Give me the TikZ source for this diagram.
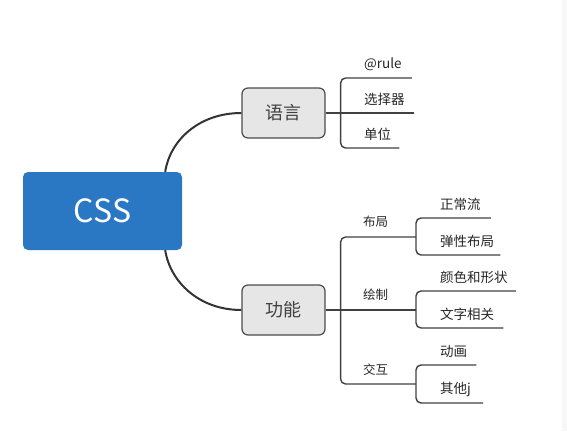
\documentclass[tikz,border=0pt]{standalone}
\usepackage{fontspec}
\setmainfont{Noto Sans CJK SC}
\usetikzlibrary{calc,positioning}
\definecolor{cssblue}{HTML}{2A78C4}
\definecolor{topicgray}{HTML}{E6E6E6}

\begin{document}
\begin{tikzpicture}[x=1pt,y=-1pt]
    \tikzstyle{root}=[rectangle, rounded corners=5pt, fill=cssblue, text=white, minimum width=159pt, minimum height=78pt, font=\fontsize{32}{36}\selectfont]
    \tikzstyle{topic}=[rectangle, rounded corners=6pt, draw=black!70, line width=1.2pt, fill=topicgray, minimum width=83pt, minimum height=50pt, font=\fontsize{18}{22}\selectfont, text=black!75]
    \tikzstyle{sub}=[inner sep=0pt, anchor=west, font=\fontsize{12.5}{15}\selectfont, text=black!85]
    \tikzstyle{leaf}=[inner sep=0pt, anchor=west, font=\fontsize{13.5}{16}\selectfont, text=black!85]
    \tikzstyle{curve}=[line width=2pt, draw=black!80]
    \tikzstyle{branch}=[line width=1.4pt, draw=black!75, rounded corners=5pt]

      \useasboundingbox (0,0) rectangle (567,431);
      \fill[black!3] (562,0) rectangle (567,431);

      % centre and first level
      \node[root] (css) at (102.5,211) {CSS};
      \node[topic] (lang) at (283.5,113) {语言};
      \node[topic] (func) at (283.5,310) {功能};
      \draw[curve] ($(css.north east)+(-17,0)$) .. controls +(5,-32) and +(-42,0) .. (lang.west);
      \draw[curve] ($(css.south east)+(-17,0)$) .. controls +(5,32) and +(-42,0) .. (func.west);

      % 语言
      \node[leaf] (rule) at (364,64) {@rule};
      \node[leaf] (sel) at (364,99) {选择器};
      \node[leaf] (unit) at (364,134) {单位};
      \coordinate (fork1) at ($(lang.east)+(15,0)$);
      \draw[branch] (lang.east) -- ($(sel.east)+(9,14)$);
      \draw[branch] ($(rule.east)+(10,14)$) -| (fork1) |- ($(unit.east)+(8,14)$);

      % 功能
      \node[sub] (layout) at (363,222) {布局};
      \node[sub] (paint) at (363,295) {绘制};
      \node[sub] (interact) at (363,370) {交互};
      \coordinate (fork2) at ($(func.east)+(15,0)$);
      \coordinate (lay) at (416,237);
      \coordinate (pnt) at (416,310);
      \coordinate (itr) at (416,384);
      \draw[branch] (func.east) -- (pnt);
      \draw[branch] (lay) -| (fork2) |- (itr);

      \node[leaf] (normal) at (440,204) {正常流};
      \node[leaf] (flex) at (440,241) {弹性布局};
      \node[leaf] (color) at (440,277) {颜色和形状};
      \node[leaf] (text) at (440,314) {文字相关};
      \node[leaf] (anim) at (440,351) {动画};
      \node[leaf] (other) at (440,389) {其他j};
      \draw[branch] ($(normal.east)+(10,14)$) -| (lay) |- ($(flex.east)+(6,14)$);
      \draw[branch] ($(color.east)+(8,14)$) -| (pnt) |- ($(text.east)+(9,14)$);
      \draw[branch] ($(anim.east)+(9,14)$) -| (itr) |- ($(other.east)+(12,14)$);
    \end{tikzpicture}
\end{document}
